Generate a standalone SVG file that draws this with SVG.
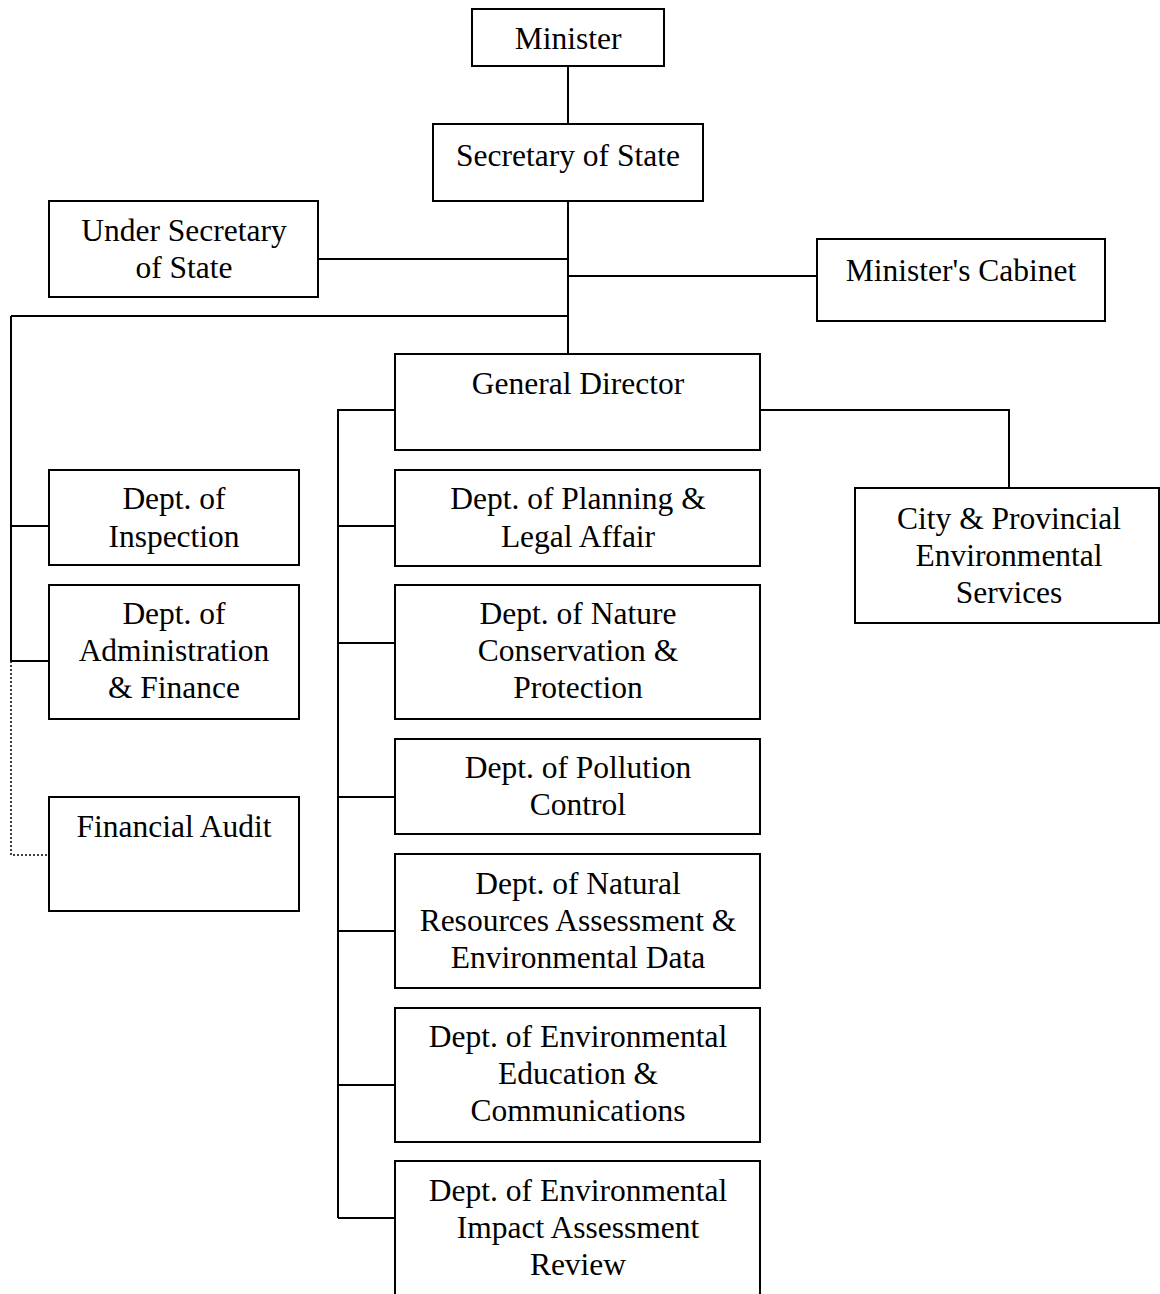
<svg xmlns="http://www.w3.org/2000/svg" width="1160" height="1294" viewBox="0 0 1160 1294">
<style>
.box{fill:#fff;stroke:#000;stroke-width:2}
.c{fill:none;stroke:#000;stroke-width:2}
.d{fill:none;stroke:#000;stroke-width:1.5;stroke-dasharray:2 2}
text{font-family:"Liberation Serif","Times New Roman",serif;font-size:31.5px;fill:#000;text-anchor:middle}
</style>
<rect width="1160" height="1294" fill="#fff"/>
<g id="connectors">
<path class="c" d="M568 66V124M568 201V354M318 259H568M568 276H817M11 316H568M11 316V661M11 526H49M11 661H49"/>
<path class="d" d="M11 661V855H49"/>
<path class="c" d="M395 410H338V1218M338 526H395M338 643H395M338 797H395M338 931H395M338 1085H395M338 1218H395"/>
<path class="c" d="M760 410H1009V488"/>
</g>
<g id="minister"><rect class="box" x="472" y="9" width="192" height="57"/><text x="568" y="49">Minister</text></g>
<g id="secretary"><rect class="box" x="433" y="124" width="270" height="77"/><text x="568" y="166">Secretary of State</text></g>
<g id="under-secretary"><rect class="box" x="49" y="201" width="269" height="96"/><text x="184" y="241">Under Secretary</text><text x="184" y="278">of State</text></g>
<g id="cabinet"><rect class="box" x="817" y="239" width="288" height="82"/><text x="961" y="281">Minister's Cabinet</text></g>
<g id="general-director"><rect class="box" x="395" y="354" width="365" height="96"/><text x="578" y="394">General Director</text></g>
<g id="inspection"><rect class="box" x="49" y="470" width="250" height="95"/><text x="174" y="509">Dept. of</text><text x="174" y="547">Inspection</text></g>
<g id="admin-finance"><rect class="box" x="49" y="585" width="250" height="134"/><text x="174" y="624">Dept. of</text><text x="174" y="661">Administration</text><text x="174" y="698">&amp; Finance</text></g>
<g id="financial-audit"><rect class="box" x="49" y="797" width="250" height="114"/><text x="174" y="837">Financial Audit</text></g>
<g id="planning"><rect class="box" x="395" y="470" width="365" height="96"/><text x="578" y="509">Dept. of Planning &amp;</text><text x="578" y="547">Legal Affair</text></g>
<g id="nature"><rect class="box" x="395" y="585" width="365" height="134"/><text x="578" y="624">Dept. of Nature</text><text x="578" y="661">Conservation &amp;</text><text x="578" y="698">Protection</text></g>
<g id="pollution"><rect class="box" x="395" y="739" width="365" height="95"/><text x="578" y="778">Dept. of Pollution</text><text x="578" y="815">Control</text></g>
<g id="natural-resources"><rect class="box" x="395" y="854" width="365" height="134"/><text x="578" y="894">Dept. of Natural</text><text x="578" y="931">Resources Assessment &amp;</text><text x="578" y="968">Environmental Data</text></g>
<g id="education"><rect class="box" x="395" y="1008" width="365" height="134"/><text x="578" y="1047">Dept. of Environmental</text><text x="578" y="1084">Education &amp;</text><text x="578" y="1121">Communications</text></g>
<g id="eia"><rect class="box" x="395" y="1161" width="365" height="140"/><text x="578" y="1201">Dept. of Environmental</text><text x="578" y="1238">Impact Assessment</text><text x="578" y="1275">Review</text></g>
<g id="city-provincial"><rect class="box" x="855" y="488" width="304" height="135"/><text x="1009" y="529">City &amp; Provincial</text><text x="1009" y="566">Environmental</text><text x="1009" y="603">Services</text></g>
</svg>
